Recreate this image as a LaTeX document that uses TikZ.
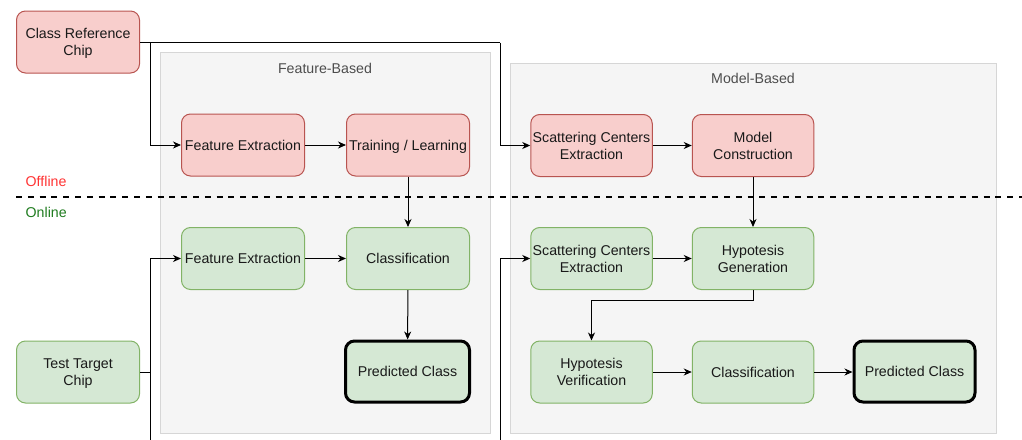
\documentclass[tikz,border=0pt]{standalone}
\usepackage{fontspec}
\setmainfont{Liberation Sans}
\usetikzlibrary{arrows.meta}
\definecolor{redfill}{HTML}{F8CECC}
\definecolor{redline}{HTML}{B85450}
\definecolor{greenfill}{HTML}{D5E8D4}
\definecolor{greenline}{HTML}{82B366}
\definecolor{groupfill}{HTML}{F5F5F5}
\definecolor{groupline}{HTML}{D6D6D6}
\definecolor{grouptext}{HTML}{4D4D4D}
\definecolor{offcol}{HTML}{FF3333}
\definecolor{oncol}{HTML}{1E7B1E}
\newcommand{\nodepth}[1]{\raisebox{0pt}[\height][0pt]{#1}}
\begin{document}
\begin{tikzpicture}[x=1pt,y=-1pt,
  every node/.style={font=\fontsize{14.2}{17}\selectfont, text=black!90, align=center, inner sep=0pt},
  boxbase/.style={rounded corners=9pt, minimum width=123pt, minimum height=62pt, line width=1pt},
  redbox/.style={boxbase, draw=redline, fill=redfill},
  greenbox/.style={boxbase, draw=greenline, fill=greenfill},
  resultbox/.style={boxbase, draw=black, fill=greenfill, line width=3pt},
  oneline/.style={text height=10.2pt, text depth=0pt},
  groupbox/.style={draw=groupline, fill=groupfill, line width=1pt},
  grouplabel/.style={text=grouptext},
  arr/.style={-{Stealth[length=8pt,width=7pt,inset=2.5pt]}, line width=1pt, draw=black},
  conn/.style={line width=1pt, draw=black}]
\useasboundingbox (0,0) rectangle (1022,439);
\clip (0,0) rectangle (1022,439);

% groups
\draw[groupbox] (160.5,52.5) rectangle (490,433);
\draw[groupbox] (510,63.5) rectangle (996,433);
\node[grouplabel, oneline] (fbl) at (325,68.5) {Feature-Based};
\node[grouplabel, oneline] (mbl) at (753,78.5) {Model-Based};

% offline / online
\draw[line width=2pt, dash pattern=on 6pt off 5.8pt] (16,196.5) -- (1030,196.5);
\node[text=offcol, anchor=west, oneline] (off) at (25.5,181) {Offline};
\node[text=oncol, anchor=west, oneline] (on) at (25.5,212) {Online};

% nodes
\node[redbox] (crc) at (78,42) {Class Reference\\\nodepth{Chip}};
\node[greenbox] (ttc) at (78,372) {Test Target\\\nodepth{Chip}};

\node[redbox, oneline] (fe1) at (243,145) {Feature Extraction};
\node[redbox, oneline] (tl) at (408,145) {Training / Learning};
\node[greenbox, oneline] (fe2) at (243,258.5) {Feature Extraction};
\node[greenbox, oneline] (cls1) at (408,258.5) {Classification};
\node[resultbox, oneline, minimum width=124pt, minimum height=61pt] (pc1) at (407.5,371.5) {Predicted Class};

\node[redbox, minimum width=121.5pt] (sce1) at (591.5,145.5) {Scattering Centers\\Extraction};
\node[redbox, minimum width=121.5pt] (mc) at (753,145.5) {Model\\Construction};
\node[greenbox, minimum width=121.5pt] (sce2) at (591.5,258.5) {Scattering Centers\\Extraction};
\node[greenbox, minimum width=121.5pt] (hg) at (753,258.5) {Hypotesis\\Generation};
\node[greenbox, minimum width=121.5pt] (hv) at (591.5,372) {Hypotesis\\Verification};
\node[greenbox, oneline, minimum width=121.5pt] (cls2) at (753,372) {Classification};
\node[resultbox, oneline, minimum width=121pt, minimum height=61pt] (pc2) at (914.5,371.5) {Predicted Class};

% junction coordinates
\coordinate (j1) at (150,42.5);
\coordinate (j2) at (500,42.5);
\coordinate (k1) at (150,372);
\coordinate (b1) at (150,460);
\coordinate (b2) at (500,460);

% connectors
\draw[conn] (crc.east |- j2) -- (j2);
\draw[arr] (j2) |- (sce1.west);
\draw[arr] (j1) |- (fe1.west);
\draw[arr] (fe1) -- (tl);
\draw[arr] (sce1) -- (mc);
\draw[arr] (tl) -- (cls1);
\draw[arr] (mc) -- (hg);

\draw[conn] (ttc.east |- k1) -- (k1);
\draw[arr] (k1) |- (fe2.west);
\draw[arr] (k1) -- (b1) -- (b2) |- (sce2.west);
\draw[arr] (fe2) -- (cls1);
\draw[arr] (sce2) -- (hg);
\draw[arr] (cls1) -- (pc1);
\draw[arr] (hg.south) -- ++(0,10.5) -| (hv.north);
\draw[arr] (hv) -- (cls2);
\draw[arr] (cls2.east) -- (cls2.east -| pc2.west);
\end{tikzpicture}
\end{document}
